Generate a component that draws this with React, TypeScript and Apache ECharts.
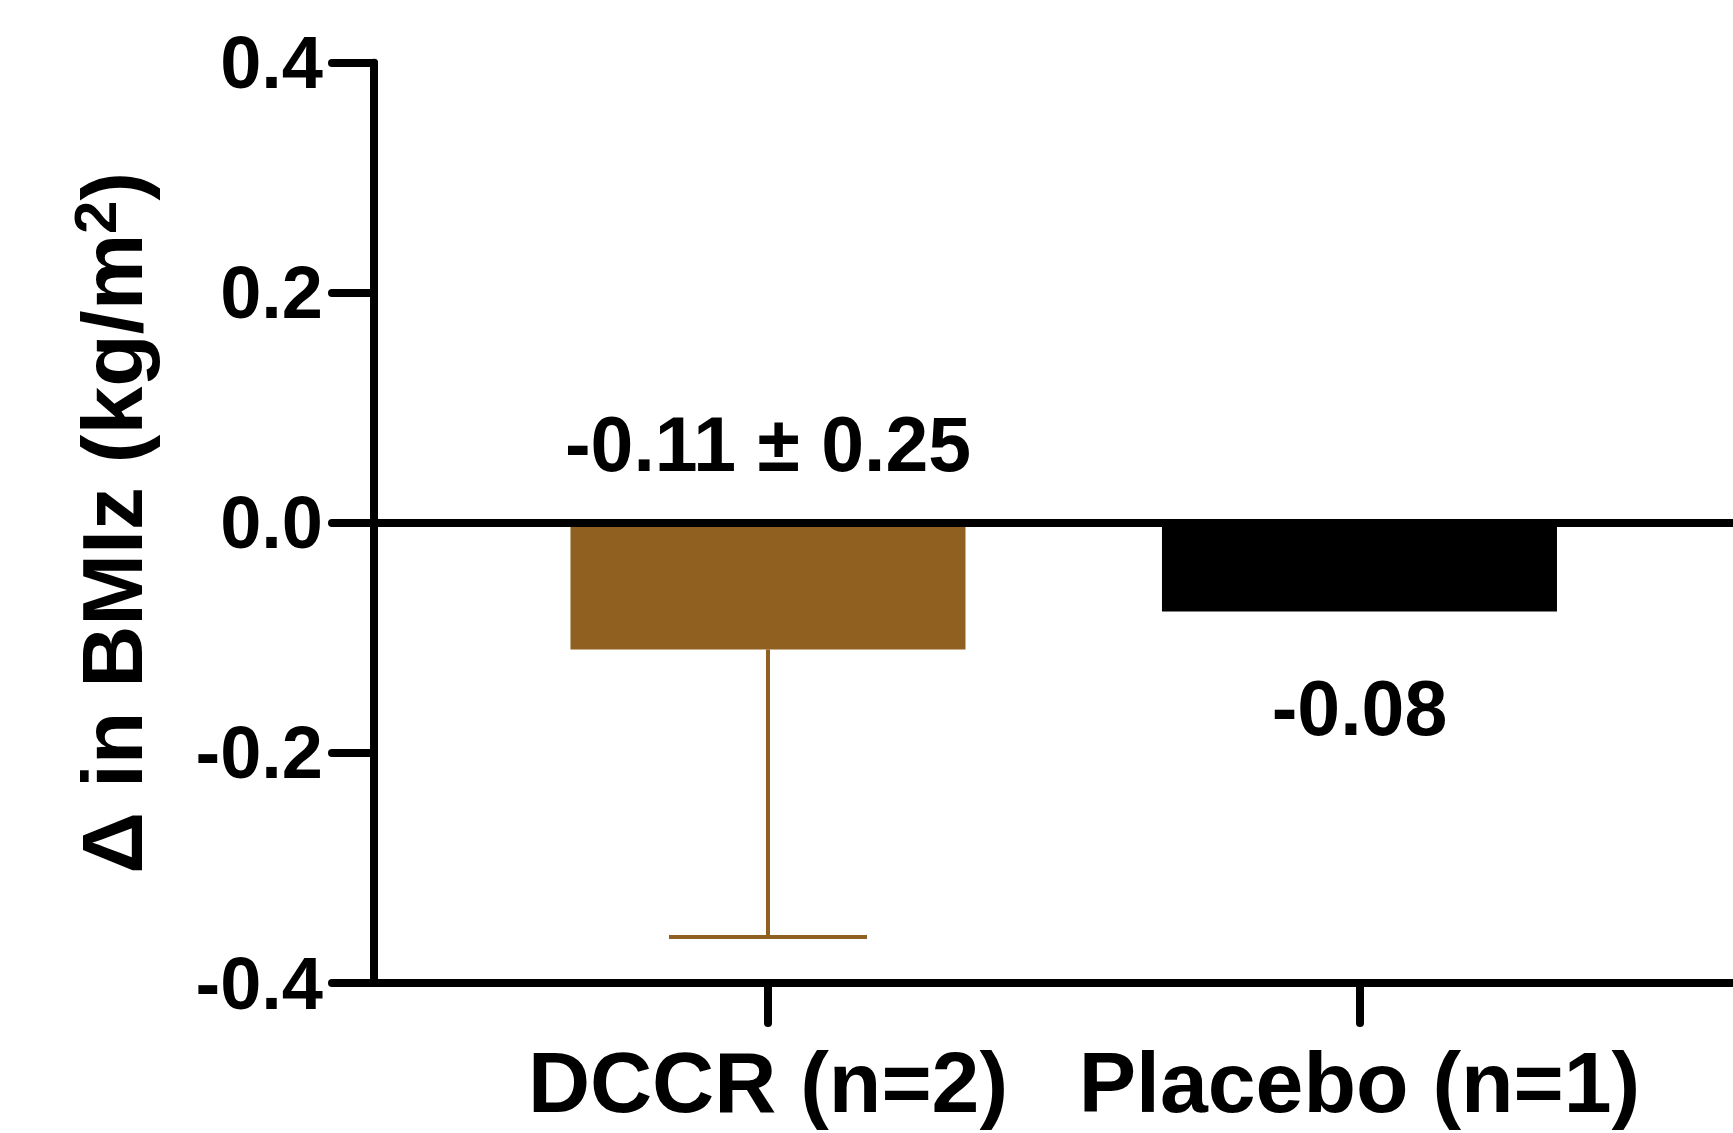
import React, { useEffect, useRef } from "react";
import * as echarts from "echarts";

const categories = ["DCCR (n=2)", "Placebo (n=1)"];
const means = [-0.11, -0.077];
const sds: (number | null)[] = [0.25, null];
const valueLabels = ["-0.11 ± 0.25", "-0.08"];
const barColors = ["#8f6020", "#000000"];
const yTicks = [-0.4, -0.2, 0, 0.2, 0.4];

const FONT = "'Liberation Sans', Arial, sans-serif";

export default function App() {
  const ref = useRef<HTMLDivElement>(null);
  useEffect(() => {
    if (!ref.current) return;
    const chart = echarts.init(ref.current, null, { renderer: "svg" });
    const positions = categories.map((_, i) => i + 1);
    const option: any = {
      animation: false,
      backgroundColor: "#ffffff",
      grid: { left: 374, right: 0, top: 62.7, bottom: 150, containLabel: false },
      xAxis: {
        type: "value",
        min: 0.3339,
        max: 2.6315,
        splitLine: { show: false },
        axisLine: { show: true, onZero: false, lineStyle: { color: "#000", width: 8, cap: "round" } },
        axisTick: { show: true, customValues: positions, length: 40, lineStyle: { color: "#000", width: 8, cap: "round" } },
        axisLabel: {
          show: true,
          customValues: positions,
          margin: 56,
          color: "#000",
          fontFamily: FONT,
          fontWeight: "bold",
          fontSize: 86,
          formatter: (v: number) => categories[Math.round(v) - 1] ?? "",
        },
      },
      yAxis: {
        type: "value",
        min: yTicks[0],
        max: yTicks[yTicks.length - 1],
        interval: 0.2,
        splitLine: { show: false },
        axisLine: { show: true, onZero: false, lineStyle: { color: "#000", width: 8, cap: "round" } },
        axisTick: { show: true, length: 42, lineStyle: { color: "#000", width: 8, cap: "round" } },
        axisLabel: {
          margin: 51,
          color: "#000",
          fontFamily: FONT,
          fontWeight: "bold",
          fontSize: 74,
          formatter: (v: number) => v.toFixed(1),
        },
        name: "{m|Δ in BMIz (kg/m}{s|2}{m|)}",
        nameLocation: "middle",
        nameGap: 215,
        nameRotate: 90,
        nameTextStyle: {
          rich: {
            m: { fontFamily: FONT, fontWeight: "bold", fontSize: 86, color: "#000" },
            s: { fontFamily: FONT, fontWeight: "bold", fontSize: 60, color: "#000", verticalAlign: "top", padding: [0, 0, 34, 0] },
          },
        },
      },
      series: [
        {
          type: "bar",
          barWidth: 395,
          data: means.map((m, i) => ({ value: [positions[i], m], itemStyle: { color: barColors[i] } })),
          markLine: {
            silent: true,
            symbol: "none",
            label: { show: false },
            lineStyle: { color: "#000", width: 8, type: "solid" },
            data: [{ yAxis: 0 }],
            z: 10,
          },
          z: 2,
        },
        {
          type: "custom",
          z: 5,
          data: means.map((m, i) => [positions[i], m, sds[i] ?? 0, i]),
          renderItem: (params: any, api: any) => {
            const x = api.value(0);
            const m = api.value(1);
            const sd = api.value(2);
            const idx = api.value(3);
            const children: any[] = [];
            const base = api.coord([x, m]);
            const zero = api.coord([x, 0]);
            if (sd > 0) {
              const low = api.coord([x, m - sd]);
              const stroke = { stroke: barColors[idx], lineWidth: 4 };
              children.push({ type: "line", shape: { x1: base[0], y1: base[1], x2: low[0], y2: low[1] }, style: stroke });
              children.push({ type: "line", shape: { x1: low[0] - 99, y1: low[1], x2: low[0] + 99, y2: low[1] }, style: stroke });
              children.push({
                type: "text",
                x: zero[0],
                y: zero[1] - 40,
                style: {
                  text: valueLabels[idx],
                  fill: "#000",
                  font: `bold 77px ${FONT}`,
                  align: "center",
                  verticalAlign: "bottom",
                },
              });
            } else {
              children.push({
                type: "text",
                x: base[0],
                y: base[1] + 58,
                style: {
                  text: valueLabels[idx],
                  fill: "#000",
                  font: `bold 77px ${FONT}`,
                  align: "center",
                  verticalAlign: "top",
                },
              });
            }
            return { type: "group", children };
          },
        },
      ],
    };
    chart.setOption(option);
    return () => chart.dispose();
  }, []);
  return <div ref={ref} style={{ position: "fixed", left: 0, top: 0, width: 1733, height: 1133 }} />;
}
